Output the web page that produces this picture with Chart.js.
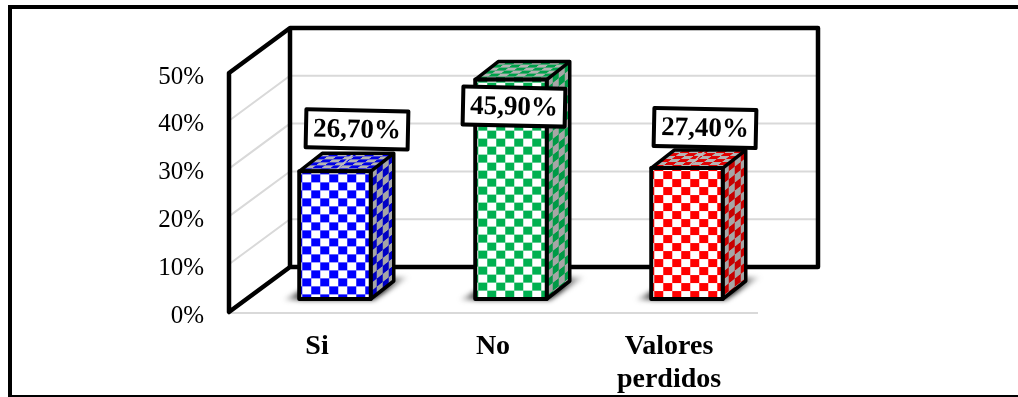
<!DOCTYPE html>
<html>
<head>
<meta charset="utf-8">
<style>html,body{margin:0;padding:0;background:#fff}canvas{display:block}</style>
<script src="https://cdn.jsdelivr.net/npm/chart.js@4/dist/chart.umd.min.js"></script>
</head>
<body>
<canvas id="c" width="1018" height="397"></canvas>
<script>
// Survey answers, in percent
const categories = ['Si', 'No', ['Valores', 'perdidos']];
const values = [26.7, 45.9, 27.4];
const tickStep = 10;
const axisMax = 50;

// Face colours of each column: front check, side check, top check
const faceColors = [
  { front: '#0000ff', side: '#0000c4', top: '#0000e6' },
  { front: '#00b050', side: '#009a46', top: '#00a04a' },
  { front: '#ff0000', side: '#c80000', top: '#e00000' }
];

// Small offsets of the value boxes from the top of their column
const labelOffsets = [
  { dx: 22, dy: -42 },
  { dx: 3, dy: 27 },
  { dx: 18, dy: -40 }
];

// Projection used by the box: wall depth and the plane the columns stand on
const WALL = { dx: 61, dy: -45 };
const PLANE = { dx: 18, dy: -13 };
const DEPTH = { dx: 23, dy: -18 };
const INK = '#000';
const GRID = '#d9d9d9';

function checker(a, b, w, h) {
  const c = document.createElement('canvas');
  c.width = 2 * w; c.height = 2 * h;
  const g = c.getContext('2d');
  g.fillStyle = b; g.fillRect(0, 0, 2 * w, 2 * h);
  g.fillStyle = a; g.fillRect(w, 0, w, h); g.fillRect(0, h, w, h);
  return c;
}

const ctx0 = document.getElementById('c').getContext('2d');
const frontPatterns = faceColors.map(f => ctx0.createPattern(checker(f.front, '#fff', 9, 8), 'repeat'));
const sidePatterns = faceColors.map(f => ctx0.createPattern(checker(f.side, '#a6a6a6', 6, 8), 'repeat'));
const topPatterns = faceColors.map(f => ctx0.createPattern(checker(f.top, '#b4b4b4', 9, 3), 'repeat'));

function poly(ctx, pts) {
  ctx.beginPath();
  pts.forEach((p, i) => i ? ctx.lineTo(p[0], p[1]) : ctx.moveTo(p[0], p[1]));
  ctx.closePath();
}

const boxPlugin = {
  id: 'box3d',
  beforeDatasetsDraw(chart) {
    const { ctx, scales: { x, y } } = chart;
    const L = x.left, R = x.right, B = y.getPixelForValue(0), T = y.getPixelForValue(axisMax);
    ctx.save();

    // Outer frame of the figure, running off the right and bottom of the page
    ctx.strokeStyle = INK; ctx.lineWidth = 4; ctx.lineJoin = 'miter';
    ctx.strokeRect(10, 7, 1030, 390);

    // Gridlines across the side wall and the back wall
    ctx.strokeStyle = GRID; ctx.lineWidth = 2;
    for (let v = tickStep; v < axisMax; v += tickStep) {
      const py = y.getPixelForValue(v);
      ctx.beginPath();
      ctx.moveTo(L, py);
      ctx.lineTo(L + WALL.dx, py + WALL.dy);
      ctx.lineTo(R + WALL.dx, py + WALL.dy);
      ctx.stroke();
    }
    // Front edge of the floor
    ctx.beginPath(); ctx.moveTo(L, B + 1); ctx.lineTo(R + 1, B + 1); ctx.stroke();

    // Heavy outline of the walls
    ctx.strokeStyle = INK; ctx.lineWidth = 4.5; ctx.lineJoin = 'round';
    poly(ctx, [[L, T], [L + WALL.dx, T + WALL.dy], [R + WALL.dx, T + WALL.dy], [R + WALL.dx, B + WALL.dy], [L + WALL.dx, B + WALL.dy], [L, B]]);
    ctx.stroke();
    ctx.beginPath(); ctx.moveTo(L + WALL.dx, T + WALL.dy); ctx.lineTo(L + WALL.dx, B + WALL.dy); ctx.stroke();

    // Soft floor shadows under the columns
    chart.getDatasetMeta(0).data.forEach(bar => {
      const xl = bar.x - bar.width / 2 + PLANE.dx, xr = bar.x + bar.width / 2 + PLANE.dx;
      const yb = bar.base + PLANE.dy;
      ctx.save();
      ctx.filter = 'blur(2.5px)';
      const g = ctx.createLinearGradient(xl - 16, 0, xr + 38, 0);
      g.addColorStop(0, 'rgba(60,60,60,0.1)');
      g.addColorStop(0.15, 'rgba(20,20,20,0.9)');
      g.addColorStop(0.8, 'rgba(20,20,20,0.9)');
      g.addColorStop(1, 'rgba(90,90,90,0.1)');
      ctx.fillStyle = g;
      poly(ctx, [[xl - 16, yb + 1], [xr + 3, yb + 1], [xr + 38, yb - 22], [xr, yb - 22], [xl, yb - 8]]);
      ctx.fill();
      ctx.restore();
    });
    ctx.restore();

    // Columns stand on a plane set back from the axis; align each check to its column
    chart.getDatasetMeta(0).data.forEach((bar, i) => {
      frontPatterns[i].setTransform(new DOMMatrix().translate(bar.x - bar.width / 2 + 3, bar.y + 3));
    });
    ctx.save();
    ctx.translate(PLANE.dx, PLANE.dy);
  },
  afterDatasetsDraw(chart) {
    const { ctx } = chart;
    ctx.restore();
    const bars = chart.getDatasetMeta(0).data;

    bars.forEach((bar, i) => {
      const xl = bar.x - bar.width / 2 + PLANE.dx, xr = bar.x + bar.width / 2 + PLANE.dx;
      const yt = bar.y + PLANE.dy, yb = bar.base + PLANE.dy;
      const w = xr - xl, h = yb - yt;

      // Side face, sheared check
      ctx.save();
      ctx.transform(1, DEPTH.dy / DEPTH.dx, 0, 1, xr, yt);
      ctx.fillStyle = sidePatterns[i];
      ctx.fillRect(0, 0, DEPTH.dx, h);
      ctx.restore();

      // Top face, sheared check
      ctx.save();
      ctx.transform(1, 0, DEPTH.dx / DEPTH.dy, 1, xl, yt);
      ctx.fillStyle = topPatterns[i];
      ctx.fillRect(0, DEPTH.dy, w, -DEPTH.dy);
      ctx.restore();

      // Thin leader from the column top up to a value box sitting above it
      if (labelOffsets[i].dy < 0) {
        ctx.save();
        ctx.strokeStyle = '#bfbfbf'; ctx.lineWidth = 1.5;
        ctx.beginPath();
        ctx.moveTo(xl + w / 2, yt);
        ctx.lineTo(xl + w / 2 + 20, yt + DEPTH.dy - 1);
        ctx.stroke();
        ctx.restore();
      }

      // Edges of the column
      ctx.save();
      ctx.strokeStyle = INK; ctx.lineWidth = 4; ctx.lineJoin = 'round';
      ctx.strokeRect(xl, yt, w, h);
      poly(ctx, [[xl, yt], [xl + DEPTH.dx, yt + DEPTH.dy], [xr + DEPTH.dx, yt + DEPTH.dy], [xr + DEPTH.dx, yb + DEPTH.dy], [xr, yb], [xr, yt]]);
      ctx.lineWidth = 3.5;
      ctx.stroke();
      ctx.beginPath(); ctx.moveTo(xr, yt); ctx.lineTo(xr + DEPTH.dx, yt + DEPTH.dy); ctx.stroke();
      ctx.restore();
    });

    // Value boxes
    bars.forEach((bar, i) => {
      const text = values[i].toFixed(2).replace('.', ',') + '%';
      const cx = bar.x + PLANE.dx + labelOffsets[i].dx;
      const cy = bar.y + PLANE.dy + labelOffsets[i].dy;
      ctx.save();
      ctx.translate(cx, cy);
      ctx.rotate(1.2 * Math.PI / 180);
      ctx.fillStyle = '#fff';
      ctx.strokeStyle = INK; ctx.lineWidth = 4; ctx.lineJoin = 'round';
      ctx.fillRect(-51, -19, 102, 38);
      ctx.strokeRect(-51, -19, 102, 38);
      ctx.fillStyle = INK;
      ctx.font = 'bold 27px "Liberation Serif"';
      ctx.textAlign = 'center'; ctx.textBaseline = 'middle';
      ctx.fillText(text, 0, 1);
      ctx.restore();
    });
  }
};

new Chart(ctx0, {
  type: 'bar',
  data: {
    labels: categories,
    datasets: [{
      data: values,
      backgroundColor: frontPatterns,
      borderWidth: 0,
      barThickness: 71.5,
      clip: false
    }]
  },
  options: {
    responsive: false,
    animation: false,
    events: [],
    layout: { padding: { left: 0, top: 73, right: 261, bottom: 0 } },
    plugins: { legend: { display: false }, tooltip: { enabled: false }, title: { display: false } },
    scales: {
      x: {
        grid: { display: false },
        border: { display: false },
        ticks: {
          color: '#000', padding: 11, maxRotation: 0, autoSkip: false,
          font: { family: 'Liberation Serif', size: 28, weight: 'bold', lineHeight: 1.15 }
        },
        afterFit(s) { s.height = 85; }
      },
      y: {
        min: 0, max: axisMax,
        grid: { display: false },
        border: { display: false },
        ticks: {
          stepSize: tickStep, color: '#000', padding: 17, labelOffset: 4,
          font: { family: 'Liberation Serif', size: 25 },
          callback: v => v + '%'
        },
        afterFit(s) { s.width = 229; }
      }
    }
  },
  plugins: [boxPlugin]
});
</script>
</body>
</html>
